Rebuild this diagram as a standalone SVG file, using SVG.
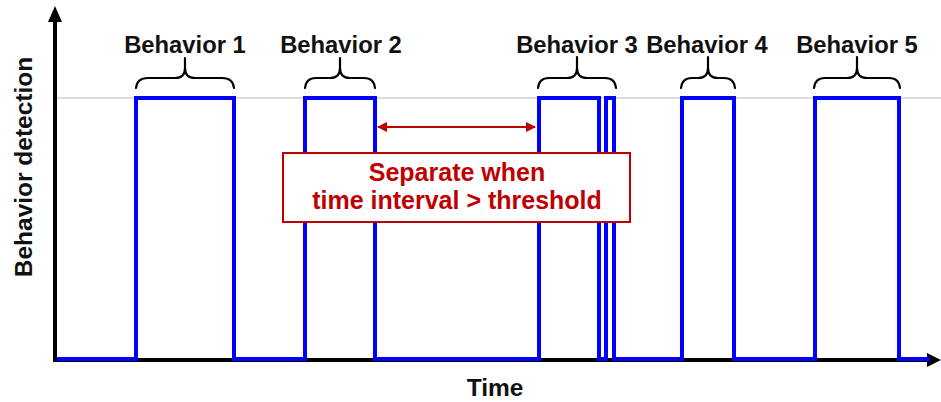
<svg xmlns="http://www.w3.org/2000/svg" width="941" height="402" viewBox="0 0 941 402">
<style>
.lbl{font-family:"Liberation Sans",Arial,sans-serif;font-weight:bold;font-size:23.8px;fill:#111;text-anchor:middle}
.red{font-family:"Liberation Sans",Arial,sans-serif;font-weight:bold;font-size:25px;fill:#c00000;text-anchor:middle}
.brace{fill:none;stroke:#000;stroke-width:2.2;stroke-linecap:round}
.axis{stroke:#000;stroke-width:4;fill:none}
</style>
<defs>
<marker id="ra" viewBox="0 0 10 10" refX="9" refY="5" markerWidth="5" markerHeight="5" orient="auto-start-reverse" markerUnits="strokeWidth">
<path d="M0,0 L10,5 L0,10 z" fill="#c00000"/>
</marker>
</defs>
<rect width="941" height="402" fill="#fff"/>
<g id="gridline"><line x1="55" y1="98" x2="941" y2="98" stroke="#bbb" stroke-width="1"/></g>
<g id="axes">
<line class="axis" x1="55" y1="362" x2="55" y2="20"/>
<polygon points="55,6 48,22 62,22" fill="#000"/>
<line class="axis" x1="53" y1="360" x2="928" y2="360"/>
<polygon points="941,360 927,353 927,367" fill="#000"/>
</g>
<g id="signal">
<path d="M57,359 H136 V98 H234 V359 H305 V98 H375 V359 H539 V98 H599 V359 H606 V98 H614 V359 H682 V98 H734 V359 H815 V98 H899 V359 H930" fill="none" stroke="#0000ff" stroke-width="4"/>
</g>
<g id="behavior1">
<path class="brace" d="M136,88 Q137,78 148,78 H175 Q185,78 185,68 V58 M185,68 Q185,78 195,78 H222 Q233,78 234,88"/>
<text class="lbl" x="185" y="53">Behavior 1</text>
</g>
<g id="behavior2">
<path class="brace" d="M305,88 Q306,78 316,78 H330 Q340,78 340,68 V58 M340,68 Q340,78 350,78 H364 Q374,78 375,88"/>
<text class="lbl" x="341" y="53">Behavior 2</text>
</g>
<g id="behavior3">
<path class="brace" d="M538,88 Q539,78 549,78 H567 Q577,78 577,68 V57 M577,68 Q577,78 587,78 H605 Q615,78 616,88"/>
<text class="lbl" x="577" y="53">Behavior 3</text>
</g>
<g id="behavior4">
<path class="brace" d="M681,88 Q682,78 692,78 H698 Q708,78 708,68 V57 M708,68 Q708,78 718,78 H724 Q734,78 735,88"/>
<text class="lbl" x="707" y="53">Behavior 4</text>
</g>
<g id="behavior5">
<path class="brace" d="M814,88 Q815,78 825,78 H847 Q857,78 857,68 V57 M857,68 Q857,78 867,78 H889 Q899,78 900,88"/>
<text class="lbl" x="857" y="53">Behavior 5</text>
</g>
<g id="connectors">
<line x1="378" y1="127" x2="535" y2="127" stroke="#c00000" stroke-width="2" marker-start="url(#ra)" marker-end="url(#ra)"/>
</g>
<g id="threshold-note">
<rect x="283" y="153" width="347" height="69" fill="#fff" stroke="#c00000" stroke-width="2"/>
<text class="red" x="457" y="181">Separate when</text>
<text class="red" x="457" y="209">time interval &gt; threshold</text>
</g>
<g id="y-label">
<text class="lbl" transform="translate(32,167) rotate(-90)" x="0" y="0" style="font-size:24.5px">Behavior detection</text>
</g>
<g id="x-label">
<text class="lbl" x="495" y="396" style="font-size:24.5px">Time</text>
</g>
</svg>
